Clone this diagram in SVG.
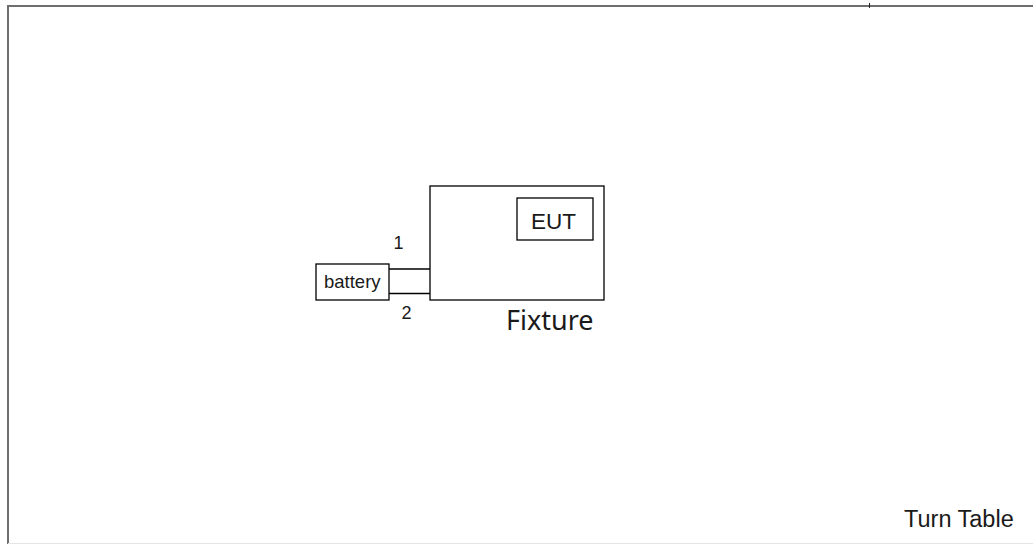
<svg xmlns="http://www.w3.org/2000/svg" width="1033" height="544" viewBox="0 0 1033 544">
<style>
.box{fill:#fff;stroke:#000;stroke-width:1.3}
.wire{stroke:#000;stroke-width:1.3;fill:none}
.frame{stroke:#6e6e6e;stroke-width:2;fill:none}
.t{font-family:"Liberation Sans",Arial,sans-serif;fill:#1a1a1a}
.f{font-family:"Noto Sans","Open Sans",sans-serif;fill:#1a1a1a}
</style>
<rect width="1033" height="544" fill="#fff"/>
<g id="frame">
<polyline class="frame" points="8,544 8,6 1033,6"/>
<line x1="869.5" y1="3" x2="869.5" y2="8" stroke="#222" stroke-width="1"/>
<line x1="8" y1="543.5" x2="1033" y2="543.5" stroke="#e6e6e6" stroke-width="1"/>
</g>
<g id="connectors">
<line class="wire" x1="389" y1="269" x2="430" y2="269"/>
<line class="wire" x1="389" y1="293.5" x2="430" y2="293.5"/>
<text class="t" x="398.5" y="249" font-size="18" text-anchor="middle">1</text>
<text class="t" x="406.5" y="319" font-size="18" text-anchor="middle">2</text>
</g>
<g id="fixture">
<rect class="box" x="430" y="186" width="174" height="114"/>
<text class="f" x="506" y="330" font-size="27">Fixture</text>
</g>
<g id="eut">
<rect class="box" x="517" y="198" width="76" height="42"/>
<text class="t" x="531" y="229" font-size="22.5">EUT</text>
</g>
<g id="battery">
<rect class="box" x="316" y="264" width="73" height="36"/>
<text class="t" x="324" y="288" font-size="18.5">battery</text>
</g>
<g id="turntable">
<text class="t" x="904" y="527" font-size="23.5">Turn Table</text>
</g>
</svg>
